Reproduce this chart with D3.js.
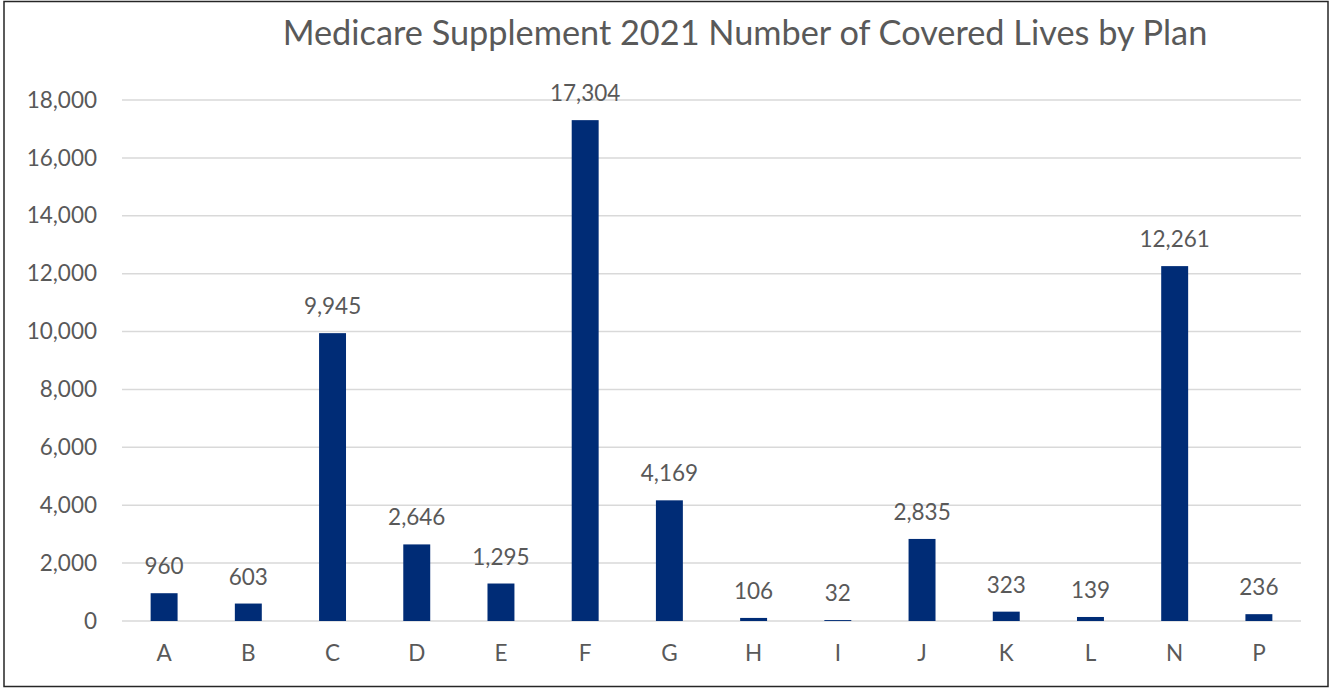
<!DOCTYPE html>
<html>
<head>
<meta charset="utf-8">
<script src="https://cdn.jsdelivr.net/npm/d3@7"></script>
<style>
  html, body { margin: 0; padding: 0; background: #fff; }
  svg { display: block; }
</style>
</head>
<body>
<script>
const titleText = "Medicare Supplement 2021 Number of Covered Lives by Plan";
const plans = ["A","B","C","D","E","F","G","H","I","J","K","L","N","P"];
const coveredLives = [960, 603, 9945, 2646, 1295, 17304, 4169, 106, 32, 2835, 323, 139, 12261, 236];
const yTicks = [0, 2000, 4000, 6000, 8000, 10000, 12000, 14000, 16000, 18000];

(function () {
const W = 1330, H = 688;
const font = "Lato, 'Open Sans', sans-serif";
const textColor = "#595959";
const labelSize = "22.5px";

const svg = d3.select("body").append("svg").attr("width", W).attr("height", H);

svg.append("rect").attr("x", 0).attr("y", 0).attr("width", W).attr("height", H).attr("fill", "#fff");
// outer border
svg.append("rect").attr("x", 4).attr("y", 1.5).attr("width", W - 6).attr("height", H - 3)
  .attr("fill", "none").attr("stroke", "#262626").attr("stroke-width", 1.5);

const pLeft = 122, pRight = 1301, pTop = 100, pBottom = 621;

const x = d3.scaleBand().domain(plans).range([pLeft, pRight]).paddingInner(0.68).paddingOuter(0.34);
const y = d3.scaleLinear().domain([0, 18000]).range([pBottom, pTop]);

// gridlines
svg.append("g").selectAll("line").data(yTicks).join("line")
  .attr("x1", pLeft).attr("x2", pRight)
  .attr("y1", d => y(d)).attr("y2", d => y(d))
  .attr("stroke", "#d9d9d9").attr("stroke-width", 1.5);

// y axis
const yAxis = d3.axisLeft(y).tickValues(yTicks).tickFormat(d3.format(",")).tickSize(0).tickPadding(25);
const gy = svg.append("g").attr("transform", `translate(${pLeft},0)`).call(yAxis);
gy.select(".domain").remove();
gy.selectAll("text").attr("fill", textColor).style("font-family", font).style("font-size", labelSize);

// x axis
const xAxis = d3.axisBottom(x).tickSize(0).tickPadding(24);
const gx = svg.append("g").attr("transform", `translate(0,${pBottom})`).call(xAxis);
gx.select(".domain").remove();
gx.selectAll("text").attr("fill", textColor).style("font-family", font).style("font-size", labelSize);

// bars
svg.append("g").selectAll("rect").data(plans).join("rect")
  .attr("x", d => x(d))
  .attr("width", x.bandwidth())
  .attr("y", (d, i) => y(coveredLives[i]))
  .attr("height", (d, i) => y(0) - y(coveredLives[i]))
  .attr("fill", "#002C76");

// data labels
svg.append("g").selectAll("text").data(plans).join("text")
  .attr("x", d => x(d) + x.bandwidth() / 2)
  .attr("y", (d, i) => y(coveredLives[i]) - 19)
  .attr("text-anchor", "middle")
  .attr("fill", textColor)
  .style("font-family", font).style("font-size", labelSize)
  .text((d, i) => d3.format(",")(coveredLives[i]));

// title
svg.append("text").attr("x", 745).attr("y", 45).attr("text-anchor", "middle")
  .attr("fill", textColor).style("font-family", font).style("font-size", "34.3px")
  .text(titleText);
})();
</script>
</body>
</html>
